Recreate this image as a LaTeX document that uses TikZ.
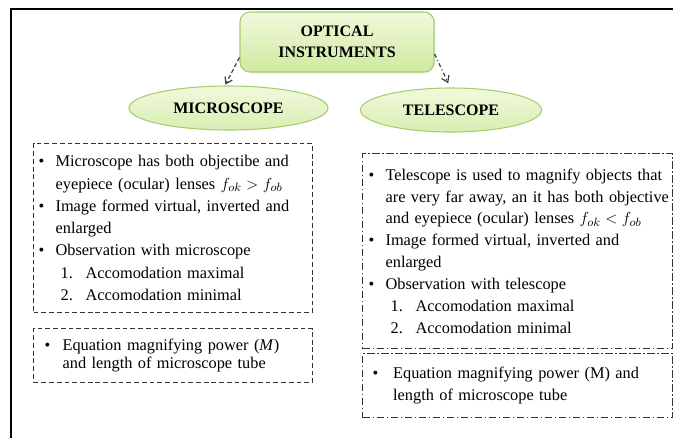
\documentclass[tikz,border=0pt]{standalone}
\usepackage{amsmath}
\usepackage{fontspec}
\setmainfont{Liberation Serif}
\usetikzlibrary{arrows.meta}
\usetikzlibrary{shapes.geometric}
\usetikzlibrary{shadows}

\definecolor{leafline}{HTML}{A6CD6E}
\definecolor{leaftop}{HTML}{F1F9DC}
\definecolor{leafbot}{HTML}{CFE9A0}
\definecolor{notegray}{HTML}{333333}
\definecolor{linkgray}{HTML}{3C3C3C}

\begin{document}
\begin{tikzpicture}[x=0.75pt,y=-0.75pt,
		font=\fontsize{12}{16.5}\selectfont,
		title node/.style={rectangle,rounded corners=7.5pt,draw=leafline,
			line width=0.8pt,top color=leaftop,bottom color=leafbot,
			drop shadow={opacity=0.15,shadow xshift=1pt,shadow yshift=-1pt},
			font=\fontsize{12}{15.75}\selectfont\bfseries,align=center,
			minimum width=145.5pt,minimum height=45pt,inner sep=0pt},
		branch node/.style={ellipse,draw=leafline,line width=0.8pt,
			top color=leaftop,bottom color=leafbot!80,
			font=\fontsize{12}{14}\selectfont\bfseries,
			minimum height=33pt,inner sep=0pt},
		note box/.style={rectangle,draw=notegray,line width=0.9pt,
			dash pattern=on 3.6pt off 2.2pt,align=left,anchor=north west},
		note box dd/.style={note box,dash pattern=on 5.5pt off 2pt on 1pt off 2pt},
		link/.style={draw=linkgray,line width=0.9pt,
			-{Straight Barb[length=4.5pt,width=6pt]}}]
	
	\useasboundingbox (0,0) rectangle (673,437);
	\clip (0,0) rectangle (673,437);
	
	% outer frame, runs off the page on the right and at the bottom
	\draw[line width=1.6pt] (690,9) -- (11,9) -- (11,450);
	
	\node[title node] (optic) at (337,42) {OPTICAL\\INSTRUMENTS};
	\node[branch node,minimum width=149.25pt] (micro) at (228.5,108) {MICROSCOPE};
	\node[branch node,minimum width=135.75pt] (tele) at (451,110) {TELESCOPE};
	
	\draw[link,dash pattern=on 3pt off 2pt,shorten >=0.75pt] (optic.189) -- (micro.99);
	\draw[link,dash pattern=on 3pt off 2pt on 0.8pt off 2pt,shorten >=3.5pt] (optic.353) -- (tele.92);
	
	% microscope notes
	\node[note box,minimum width=209.25pt,minimum height=126.75pt,
		text width=201.75pt,inner xsep=3.75pt,
		font=\fontsize{12.25}{16.7}\selectfont] (microlist) at (33,143) {%
		\makebox[12.75pt][l]{\textbullet}\mbox{Microscope has both objectibe and}\\
		\hspace*{12.75pt}eyepiece (ocular) lenses $f_{ok} > f_{ob}$\\
		\makebox[12.75pt][l]{\textbullet}\mbox{Image formed virtual, inverted and}\\
		\hspace*{12.75pt}enlarged\\
		\makebox[12.75pt][l]{\textbullet}Observation with microscope\\
		\hspace*{16.5pt}\makebox[18.75pt][l]{1.}Accomodation maximal\\
		\hspace*{16.5pt}\makebox[18.75pt][l]{2.}Accomodation minimal};
	\node[note box,minimum width=209.25pt,minimum height=40.5pt,
		text width=192.75pt,inner xsep=8.25pt,
		font=\fontsize{12.25}{14}\selectfont] (microeq) at (33,328) {%
		\makebox[13.5pt][l]{\textbullet}Equation magnifying power (\textit{M})\\
		\hspace*{13.5pt}and length of microscope tube};
	
	% telescope notes
	\node[note box dd,minimum width=232.5pt,minimum height=146.25pt,
		text width=223.5pt,inner xsep=4.5pt,
		font=\fontsize{12.25}{16.4}\selectfont] (telelist) at (362,153) {%
		\makebox[12.75pt][l]{\textbullet}\mbox{Telescope is used to magnify objects that}\\
		\hspace*{12.75pt}\mbox{are very far away, an it has both objective}\\
		\hspace*{12.75pt}\mbox{and eyepiece (ocular) lenses $f_{ok} < f_{ob}$}\\
		\makebox[12.75pt][l]{\textbullet}Image formed virtual, inverted and\\
		\hspace*{12.75pt}enlarged\\
		\makebox[12.75pt][l]{\textbullet}Observation with telescope\\
		\hspace*{16.5pt}\makebox[18.75pt][l]{1.}Accomodation maximal\\
		\hspace*{16.5pt}\makebox[18.75pt][l]{2.}Accomodation minimal};
	\node[note box dd,minimum width=232.5pt,minimum height=48pt,
		text width=217.5pt,inner xsep=7.5pt,
		font=\fontsize{12.25}{16.5}\selectfont] (teleeq) at (362,353) {%
		\makebox[15.4pt][l]{\textbullet}Equation magnifying power (M) and\\
		\hspace*{15.4pt}length of microscope tube};
\end{tikzpicture}
\end{document}
